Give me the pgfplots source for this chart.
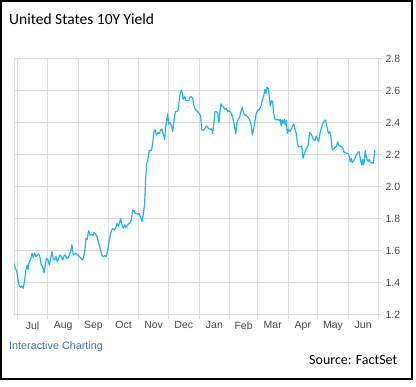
\documentclass[border=0pt]{standalone}
\usepackage{pgfplots}
\pgfplotsset{compat=1.18}
\usepackage{fontspec}
\setmainfont{Liberation Sans}
\newfontfamily\titlefont{Carlito}
\definecolor{lineblue}{RGB}{38,178,238}
\definecolor{gridgray}{RGB}{221,221,221}
\definecolor{ticktext}{RGB}{70,70,70}
\definecolor{linkblue}{RGB}{66,115,175}
\pgfplotstableread{
d v
-3.0 1.523
-2.0 1.492
-0.6 1.477
0.7 1.423
2.0 1.381
3.4 1.373
4.8 1.381
6.1 1.367
7.5 1.419
8.8 1.481
10.1 1.513
10.8 1.485
12.1 1.533
13.6 1.544
14.9 1.586
16.2 1.560
17.6 1.586
18.9 1.565
20.2 1.575
21.7 1.581
23.0 1.560
24.3 1.513
25.7 1.502
27.0 1.464
28.3 1.513
29.7 1.554
31.1 1.544
32.4 1.513
33.8 1.554
35.1 1.596
36.4 1.554
37.8 1.544
39.2 1.565
40.5 1.533
41.9 1.554
43.2 1.575
44.5 1.565
45.9 1.544
47.3 1.569
48.6 1.575
50.0 1.554
51.3 1.554
52.6 1.575
54.0 1.596
55.3 1.638
56.7 1.575
58.1 1.581
59.4 1.586
60.4 1.579
61.4 1.575
62.4 1.569
64.5 1.554
65.8 1.544
67.2 1.560
68.5 1.606
69.5 1.679
70.8 1.673
72.2 1.727
73.6 1.700
75.3 1.704
76.6 1.698
77.6 1.715
79.3 1.704
80.6 1.694
82.0 1.658
83.4 1.627
84.7 1.596
86.0 1.569
87.4 1.565
88.7 1.571
90.0 1.565
91.5 1.606
92.8 1.658
94.1 1.700
95.5 1.731
96.8 1.740
98.1 1.731
99.6 1.742
100.9 1.773
102.2 1.756
103.6 1.777
104.6 1.804
105.9 1.763
107.3 1.742
108.7 1.763
110.0 1.748
111.3 1.756
112.7 1.773
114.0 1.773
115.3 1.794
116.8 1.856
118.1 1.852
119.4 1.835
120.8 1.835
122.1 1.829
123.4 1.835
124.9 1.804
126.2 1.783
127.5 1.825
128.9 1.900
129.9 2.044
130.9 2.148
131.9 2.163
132.9 2.200
133.6 2.231
134.6 2.227
135.6 2.227
136.6 2.252
137.6 2.304
138.6 2.356
139.6 2.356
141.0 2.325
142.4 2.340
143.7 2.335
145.1 2.356
146.4 2.360
147.7 2.331
149.1 2.298
150.2 2.377
151.2 2.419
152.2 2.456
153.2 2.394
154.5 2.402
155.8 2.388
157.2 2.346
158.6 2.419
159.9 2.471
161.3 2.471
162.6 2.477
163.9 2.544
164.9 2.585
165.9 2.606
166.9 2.589
167.9 2.548
169.4 2.565
170.7 2.540
172.0 2.540
173.4 2.540
174.7 2.560
176.1 2.565
177.5 2.554
178.8 2.506
180.1 2.485
181.5 2.477
182.8 2.469
184.1 2.460
185.6 2.444
186.6 2.360
188.2 2.352
189.9 2.367
191.6 2.381
193.3 2.367
195.0 2.360
196.3 2.365
197.7 2.335
199.0 2.408
200.0 2.471
201.4 2.471
202.8 2.465
204.1 2.402
205.1 2.471
206.1 2.519
207.4 2.506
208.8 2.498
210.2 2.485
211.5 2.492
212.9 2.471
214.2 2.477
215.5 2.471
216.9 2.456
218.2 2.429
219.6 2.388
221.0 2.331
222.3 2.402
223.6 2.423
225.0 2.435
226.3 2.471
227.7 2.498
229.1 2.460
230.4 2.450
232.1 2.444
233.7 2.435
235.1 2.419
236.5 2.394
237.8 2.325
239.2 2.367
240.5 2.410
241.8 2.460
243.2 2.477
244.8 2.485
246.6 2.506
247.9 2.540
249.6 2.575
250.6 2.610
251.6 2.585
252.6 2.623
253.9 2.617
255.0 2.565
256.0 2.506
257.4 2.540
258.4 2.533
259.4 2.460
260.8 2.423
262.1 2.419
263.5 2.423
264.8 2.415
266.1 2.423
267.1 2.381
268.1 2.419
269.1 2.398
270.1 2.423
271.2 2.388
272.2 2.415
273.2 2.335
274.2 2.360
275.6 2.346
276.9 2.356
278.2 2.377
279.7 2.394
281.0 2.360
282.3 2.335
283.7 2.263
285.0 2.252
286.3 2.252
287.8 2.256
289.1 2.179
290.4 2.206
291.8 2.231
293.1 2.242
294.4 2.263
295.8 2.340
297.8 2.325
299.5 2.298
301.2 2.290
302.5 2.319
303.9 2.298
304.9 2.283
306.3 2.335
307.6 2.367
309.0 2.394
310.3 2.408
312.0 2.419
313.4 2.377
314.7 2.335
316.1 2.346
317.4 2.315
318.7 2.231
320.1 2.235
321.4 2.248
322.8 2.252
324.2 2.283
325.5 2.256
326.8 2.256
328.2 2.252
329.5 2.242
330.8 2.215
332.2 2.215
333.6 2.210
334.9 2.210
335.9 2.190
336.9 2.158
337.9 2.179
338.9 2.152
340.4 2.165
341.7 2.179
343.0 2.200
344.4 2.215
345.7 2.221
346.7 2.190
347.8 2.158
348.8 2.138
349.5 2.173
350.1 2.138
351.1 2.158
352.1 2.227
353.1 2.190
354.1 2.169
355.1 2.158
356.2 2.173
357.6 2.152
358.9 2.152
360.2 2.148
361.2 2.200
361.9 2.231
}\yielddata
\begin{document}
\begin{tikzpicture}[x=1pt,y=1pt]
\path[fill=white] (0,0) rectangle (416,387);
\draw[black, line width=2pt] (1,386) rectangle (411.5,8);
\begin{axis}[
  at={(14.3pt,72pt)}, anchor=south west,
  scale only axis, width=363.7pt, height=256pt,
  xmin=-3, xmax=365, ymin=1.2, ymax=2.8,
  axis line style={draw=gridgray, line width=1pt},
  grid style={draw=gridgray, line width=1pt},
  xmajorgrids, ymajorgrids,
  tick align=outside,
  major tick length=4pt,
  tick style={draw=gridgray, line width=1pt},
  xtick pos=bottom, ytick pos=right,
  xtick={0,31,62,92,123,153,184,215,243,274,304,335,365},
  xticklabels={},
  extra x ticks={15.5,46.5,77,107.5,138,168.5,199.5,229,258.5,289,319.5,350},
  extra x tick labels={Jul,Aug,Sep,Oct,Nov,Dec,Jan,Feb,Mar,Apr,May,Jun},
  extra x tick style={xmajorgrids=false, major tick length=0pt},
  ytick={1.2,1.4,...,2.8},
  /pgf/number format/fixed,
  /pgf/number format/fixed zerofill,
  /pgf/number format/precision=1,
  /pgf/number format/assume math mode=true,
  tick label style={font=\fontsize{10.5}{12}\selectfont, text=ticktext},
  xticklabel style={yshift=-3pt},
]
\addplot[lineblue, line width=1.2pt, line join=round] table[x=d,y=v] {\yielddata};
\end{axis}
\node[anchor=base west, inner sep=0pt] at (9,362) {\titlefont\fontsize{15.5}{18}\selectfont United States 10Y Yield};
\node[anchor=base west, inner sep=0pt, text=linkblue] at (9,37) {\fontsize{10.8}{12}\selectfont Interactive Charting};
\node[anchor=base east, inner sep=0pt] at (397.5,22) {\titlefont\fontsize{14}{16}\selectfont Source: FactSet};
\end{tikzpicture}
\end{document}
